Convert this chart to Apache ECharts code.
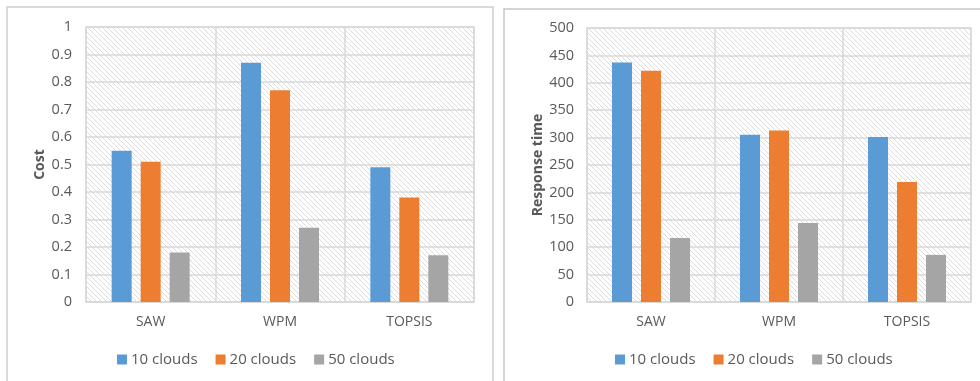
<!DOCTYPE html>
<html>
<head>
<meta charset="utf-8">
<script src="https://cdn.jsdelivr.net/npm/echarts@6/dist/echarts.min.js"></script>
<style>
  html, body { margin: 0; padding: 0; background: #fff; }
  #chart { width: 980px; height: 381px; }
</style>
</head>
<body>
<div id="chart"></div>
<script>
// Methods compared and cloud counts
const methods = ['SAW', 'WPM', 'TOPSIS'];
const seriesNames = ['10 clouds', '20 clouds', '50 clouds'];

// Cost per method
const cost10 = [0.55, 0.87, 0.49];
const cost20 = [0.51, 0.77, 0.38];
const cost50 = [0.18, 0.27, 0.17];

// Response time per method
const resp10 = [437, 305, 301];
const resp20 = [422, 313, 219];
const resp50 = [117, 144, 86];

const colors = ['#5b9bd5', '#ed7d31', '#a5a5a5'];
const FONT = '"Open Sans", "Noto Sans", sans-serif';
const TXT = '#595959';
const GRIDLINE = '#d9d9d9';

// diagonal hatch tile for the plot background
function hatchTile() {
  const c = document.createElement('canvas');
  c.width = 5; c.height = 5;
  const g = c.getContext('2d');
  g.fillStyle = '#ffffff';
  g.fillRect(0, 0, 5, 5);
  g.strokeStyle = '#dcdcdc';
  g.lineWidth = 1;
  g.beginPath();
  g.moveTo(-1, -1); g.lineTo(6, 6);
  g.moveTo(-1, 4); g.lineTo(1, 6);
  g.moveTo(4, -1); g.lineTo(6, 1);
  g.stroke();
  return c;
}
const hatch = { image: hatchTile(), repeat: 'repeat' };

function gridCfg(left, right, top, bottom) {
  return {
    left: left, right: right, top: top, bottom: bottom,
    show: true, backgroundColor: hatch,
    borderColor: GRIDLINE, borderWidth: 1.5
  };
}

function catAxis(gi) {
  return {
    type: 'category', gridIndex: gi, data: methods,
    axisLine: { show: true, lineStyle: { color: GRIDLINE, width: 1.5 } },
    axisTick: { show: false },
    splitLine: { show: true, lineStyle: { color: GRIDLINE, width: 1.5 } },
    axisLabel: { color: TXT, fontFamily: FONT, fontSize: 14, margin: 13 }
  };
}

function valAxis(gi, max, interval, name, gap, margin) {
  return {
    type: 'value', gridIndex: gi, min: 0, max: max, interval: interval,
    name: name, nameLocation: 'middle', nameGap: gap, nameRotate: 90,
    nameTextStyle: { color: TXT, fontFamily: FONT, fontSize: 14, fontWeight: 'bold' },
    axisLine: { show: false }, axisTick: { show: false },
    splitLine: { show: true, lineStyle: { color: GRIDLINE, width: 1.5 } },
    axisLabel: { color: TXT, fontFamily: FONT, fontSize: 14.5, margin: margin }
  };
}

function bars(values, gi, idx) {
  return {
    type: 'bar', name: seriesNames[idx], xAxisIndex: gi, yAxisIndex: gi,
    data: values, barWidth: 20, barGap: '45%',
    itemStyle: { color: colors[idx] }, silent: true
  };
}

function legendCfg(left) {
  return {
    left: left, top: 347, icon: 'rect', itemWidth: 10, itemHeight: 10,
    itemGap: 18, selectedMode: false,
    textStyle: { color: TXT, fontFamily: FONT, fontSize: 15, padding: [0, 0, 0, -1] },
    data: seriesNames
  };
}

const chart = echarts.init(document.getElementById('chart'), null, { renderer: 'canvas' });
chart.setOption({
  animation: false,
  backgroundColor: '#ffffff',
  color: colors,
  graphic: [
    { type: 'rect', shape: { x: 7, y: 7, width: 486, height: 420 },
      style: { fill: 'none', stroke: '#d9d9d9', lineWidth: 2 }, silent: true },
    { type: 'rect', shape: { x: 504, y: 9, width: 500, height: 420 },
      style: { fill: 'none', stroke: '#c8c8c8', lineWidth: 1.5 }, silent: true }
  ],
  grid: [gridCfg(86, 506, 27, 79), gridCfg(587, 9, 28, 79)],
  xAxis: [catAxis(0), catAxis(1)],
  yAxis: [
    valAxis(0, 1, 0.1, 'Cost', 39, 14),
    valAxis(1, 500, 50, 'Response time', 42, 13)
  ],
  legend: [legendCfg(112), legendCfg(610)],
  series: [
    bars(cost10, 0, 0), bars(cost20, 0, 1), bars(cost50, 0, 2),
    bars(resp10, 1, 0), bars(resp20, 1, 1), bars(resp50, 1, 2)
  ]
});
</script>
</body>
</html>
